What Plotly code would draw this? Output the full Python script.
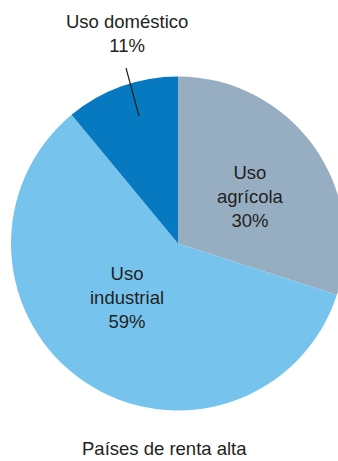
import plotly.graph_objects as go

W, H = 356, 461

labels = ["Uso<br>agrícola", "Uso<br>industrial", "Uso doméstico"]
values = [30, 59, 11]
colors = ["#97ADC2", "#76C4EE", "#0679C1"]
title = "Países de renta alta"

def px(x):
    return x / W

def py(y):
    return 1 - y / H

fig = go.Figure(go.Pie(
    labels=labels, values=values, sort=False, direction="clockwise", rotation=0,
    marker=dict(colors=colors, line=dict(width=0)),
    textinfo="none", hoverinfo="label+percent", showlegend=False,
    domain=dict(x=[px(11), px(345)], y=[py(410.5), py(76.5)]),
))

font = dict(family="Liberation Sans, Arial, sans-serif", size=18.5, color="#231F20")
pos = [(250, 197), (127, 297), (127, 33)]
ann = []
for lab, v, (x, y) in zip(labels, values, pos):
    ann.append(dict(x=px(x), y=py(y), xref="paper", yref="paper", showarrow=False,
                    text=f"{lab}<br>{v}%", font=font, xanchor="center", yanchor="middle"))
ann.append(dict(x=px(164), y=py(448), xref="paper", yref="paper", showarrow=False,
                text=title, font=font, xanchor="center", yanchor="middle"))

fig.update_layout(
    width=W, height=H, margin=dict(l=0, r=0, t=0, b=0),
    paper_bgcolor="white", plot_bgcolor="white",
    annotations=ann,
    shapes=[dict(type="line", xref="paper", yref="paper",
                 x0=px(126), y0=py(68), x1=px(139), y1=py(116),
                 line=dict(color="#231F20", width=1.2))],
)

fig.write_html("out.html")
